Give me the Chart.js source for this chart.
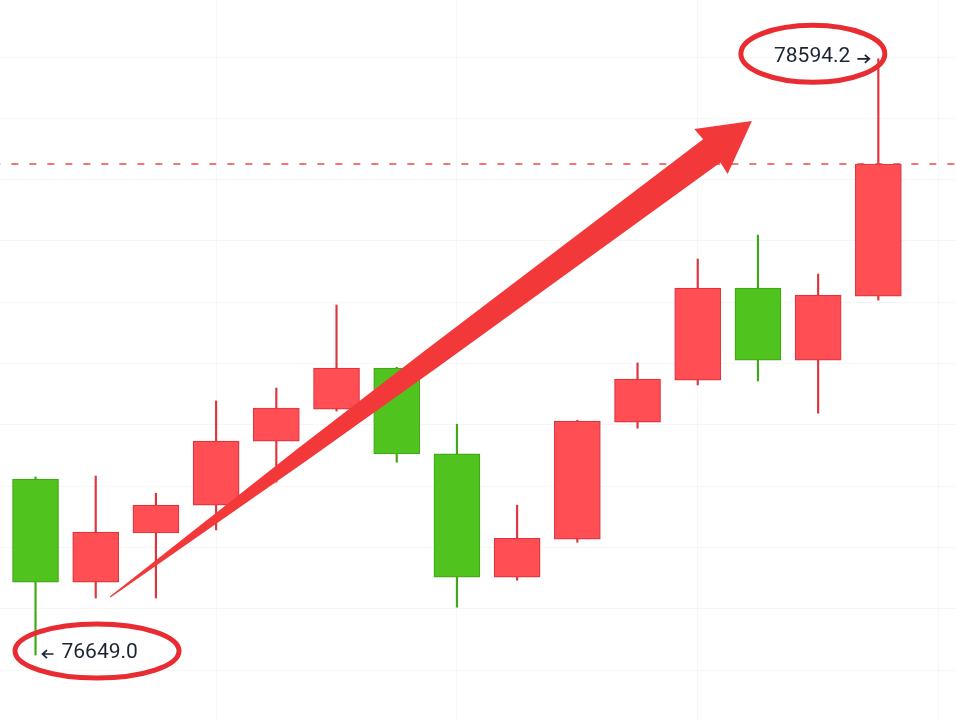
<!DOCTYPE html>
<html>
<head>
<meta charset="utf-8">
<script src="https://cdn.jsdelivr.net/npm/chart.js@4.4.1/dist/chart.umd.min.js"></script>
<style>
  html, body { margin: 0; padding: 0; background: #fff; }
  #wrap { width: 956px; height: 720px; position: relative; }
</style>
</head>
<body>
<div id="wrap"><canvas id="chart"></canvas></div>
<script>
// candle data (one entry per candle, left to right)
const opens  = [77223, 76887, 77047, 77138, 77347, 77451, 77585, 77305, 76903, 77027, 77409, 77546, 77846, 77611, 77820];
const highs  = [77230, 77233, 77177, 77478, 77520, 77791, 77588, 77402, 77138, 77415, 77602, 77941, 78019, 77892, 78594.2];
const lows   = [76649.0, 76835, 76835, 77057, 77213, 77445, 77278, 76805, 76893, 77017, 77389, 77530, 77543, 77438, 77807];
const closes = [76887, 77050, 77138, 77347, 77455, 77585, 77305, 76903, 77030, 77412, 77549, 77846, 77611, 77823, 78251];
const gridPrices = [76600, 76800, 77000, 77200, 77400, 77600, 77800, 78000, 78200, 78400, 78600];
const gridCandles = [3, 7, 11, 15];

// trend arrow drawn over the candles, in data units (candle index, price)
const trendFrom = [1.24, 76838];
const trendTo = [11.9, 78391];

const upFill = "rgb(255, 78, 84)";
const upLine = "rgb(222, 52, 62)";
const downFill = "rgb(80, 195, 30)";
const downLine = "rgb(62, 168, 22)";
const markRed = "rgb(232, 44, 50)";
const textColor = "#1c2433";

const isUp = closes.map((c, i) => c >= opens[i]);

const overlay = {
  id: "overlay",
  afterDatasetsDraw(chart) {
    const ctx = chart.ctx;
    const xs = chart.scales.x;
    const ys = chart.scales.y;
    ctx.save();

    // tapered trend arrow
    const x0 = xs.getPixelForValue(trendFrom[0]), y0 = ys.getPixelForValue(trendFrom[1]);
    const x1 = xs.getPixelForValue(trendTo[0]), y1 = ys.getPixelForValue(trendTo[1]);
    const len = Math.hypot(x1 - x0, y1 - y0);
    const ux = (x1 - x0) / len, uy = (y1 - y0) / len;
    const nx = -uy, ny = ux;
    const pt = (u, v) => [x0 + ux * u + nx * v, y0 + uy * u + ny * v];
    const headLen = 50;
    const shaft = [[0, 0.6], [len * 0.3, 7.5], [len * 0.5, 10.5], [len - headLen, 14.5]];
    const poly = [];
    shaft.forEach(s => poly.push(pt(s[0], -s[1])));
    poly.push(pt(len - headLen - 1, -28));
    poly.push(pt(len, 0));
    poly.push(pt(len - headLen - 1, 28));
    shaft.slice().reverse().forEach(s => poly.push(pt(s[0], s[1])));
    ctx.fillStyle = "rgb(243, 56, 58)";
    ctx.beginPath();
    poly.forEach((p, i) => (i ? ctx.lineTo(p[0], p[1]) : ctx.moveTo(p[0], p[1])));
    ctx.closePath();
    ctx.fill();

    ctx.font = "21px Roboto, 'Noto Sans', sans-serif";
    ctx.fillStyle = textColor;
    ctx.strokeStyle = textColor;
    ctx.lineWidth = 1.7;
    ctx.textBaseline = "middle";

    // lowest low
    const lo = lows.indexOf(Math.min(...lows));
    const lx = xs.getPixelForValue(lo), ly = ys.getPixelForValue(lows[lo]);
    ctx.beginPath();
    ctx.moveTo(lx + 18, ly - 1);
    ctx.lineTo(lx + 7, ly - 1);
    ctx.moveTo(lx + 11.5, ly - 5);
    ctx.lineTo(lx + 7, ly - 1);
    ctx.lineTo(lx + 11.5, ly + 3);
    ctx.stroke();
    ctx.textAlign = "left";
    ctx.fillText(lows[lo].toFixed(1), lx + 26, ly - 2);

    // highest high
    const hi = highs.indexOf(Math.max(...highs));
    const hx = xs.getPixelForValue(hi), hy = ys.getPixelForValue(highs[hi]);
    ctx.beginPath();
    ctx.moveTo(hx - 21, hy);
    ctx.lineTo(hx - 9, hy);
    ctx.moveTo(hx - 13.5, hy - 4);
    ctx.lineTo(hx - 9, hy);
    ctx.lineTo(hx - 13.5, hy + 4);
    ctx.stroke();
    ctx.textAlign = "right";
    ctx.fillText(highs[hi].toFixed(1), hx - 28, hy - 2);

    // hand-drawn style circles round both labels
    ctx.strokeStyle = markRed;
    ctx.lineWidth = 5;
    ctx.beginPath();
    ctx.ellipse(lx + 61.5, ly - 4, 82, 27, 0, 0, Math.PI * 2);
    ctx.stroke();
    ctx.beginPath();
    ctx.ellipse(hx - 65.5, hy - 5, 72, 28.5, 0, 0, Math.PI * 2);
    ctx.stroke();

    ctx.restore();
  },
};

const ctx = document.getElementById("chart").getContext("2d");
const lastClose = closes[closes.length - 1];

new Chart(ctx, {
  type: "bar",
  data: {
    datasets: [
      {
        type: "line",
        label: "last",
        data: [{ x: -1, y: lastClose }, { x: 16, y: lastClose }],
        borderColor: "rgb(240, 72, 76)",
        borderWidth: 1.5,
        borderDash: [7, 11],
        pointRadius: 0,
        order: 3,
      },
      {
        label: "wick",
        data: lows.map((l, i) => ({ x: i, y: [l, highs[i]] })),
        backgroundColor: isUp.map(u => (u ? upLine : downLine)),
        borderWidth: 0,
        barThickness: 1.5,
        grouped: false,
        order: 2,
      },
      {
        label: "body",
        data: opens.map((o, i) => ({ x: i, y: [o, closes[i]] })),
        backgroundColor: isUp.map(u => (u ? upFill : downFill)),
        borderColor: isUp.map(u => (u ? upLine : downLine)),
        borderWidth: 1.2,
        borderSkipped: false,
        barThickness: 46,
        grouped: false,
        order: 1,
      },
    ],
  },
  options: {
    responsive: true,
    maintainAspectRatio: false,
    animation: false,
    layout: { padding: 0 },
    plugins: { legend: { display: false }, tooltip: { enabled: false } },
    scales: {
      x: {
        type: "linear",
        min: -0.59,
        max: 15.29,
        offset: false,
        afterBuildTicks: (scale) => {
          scale.ticks = gridCandles.map(v => ({ value: v }));
        },
        ticks: { display: false },
        grid: { color: "rgba(0, 0, 0, 0.035)", drawTicks: false, offset: false },
        border: { display: false },
      },
      y: {
        min: 76437,
        max: 78786,
        afterBuildTicks: (scale) => {
          scale.ticks = gridPrices.map(v => ({ value: v }));
        },
        ticks: { display: false },
        grid: { color: "rgba(0, 0, 0, 0.035)", drawTicks: false },
        border: { display: false },
      },
    },
  },
  plugins: [overlay],
});
</script>
</body>
</html>
